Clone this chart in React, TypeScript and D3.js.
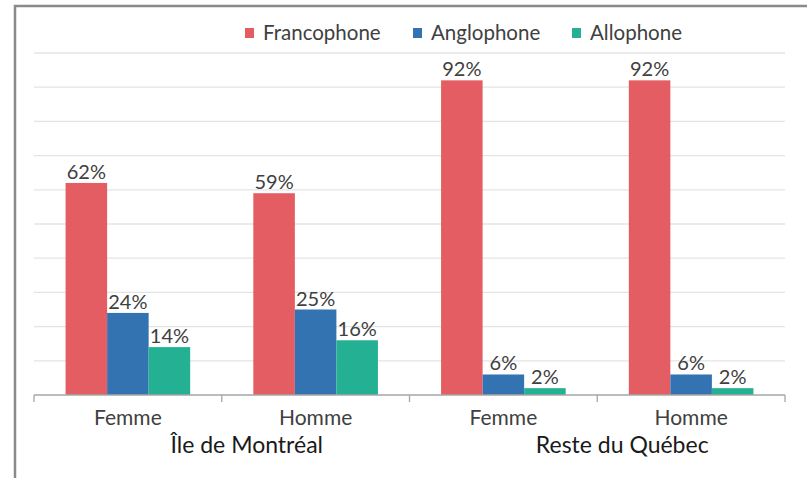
import React from 'react';
import * as d3 from 'd3';

const categories = ['Femme', 'Homme', 'Femme', 'Homme'];
const groups = ['Île de Montréal', 'Reste du Québec'];
const series = ['Francophone', 'Anglophone', 'Allophone'];
const francophone = [62, 59, 92, 92];
const anglophone = [24, 25, 6, 6];
const allophone = [14, 16, 2, 2];
const yTicks = [0, 10, 20, 30, 40, 50, 60, 70, 80, 90, 100];

const colors = ['#E35D62', '#3473B1', '#23B093'];
const values = [francophone, anglophone, allophone];
const font = 'Lato, "Open Sans", sans-serif';
const textColor = '#404040';

export default function App() {
  const width = 807;
  const height = 478;
  const left = 34;
  const right = 785;
  const top = 53;
  const bottom = 395;

  const x = d3.scaleBand<number>()
    .domain(d3.range(categories.length))
    .range([left, right])
    .padding(0);
  const xInner = d3.scaleBand<string>()
    .domain(series)
    .range([0, x.bandwidth()])
    .paddingInner(0)
    .paddingOuter(0.76);
  const y = d3.scaleLinear().domain([0, 100]).range([bottom, top]);

  const groupSize = categories.length / groups.length;

  return (
    <svg width={width} height={height} style={{ position: 'absolute', left: 0, top: 0 }}>
      <rect x={0} y={0} width={width} height={height} fill='#ffffff' />

      {/* frame */}
      <path d={`M15,${height} L15,6 L${width},6`} fill='none' stroke='#8a8a8a' strokeWidth={2.5} />

      {/* gridlines */}
      {yTicks.slice(1).map(t => (
        <line key={t} x1={left} x2={right} y1={y(t)} y2={y(t)} stroke='#e4e4e4' strokeWidth={1.3} />
      ))}

      {/* bars */}
      {series.map((s, si) => (
        <g key={s}>
          {values[si].map((v, i) => (
            <rect
              key={i}
              x={x(i)! + xInner(s)!}
              y={y(v)}
              width={xInner.bandwidth()}
              height={y(0) - y(v)}
              fill={colors[si]}
            />
          ))}
          {values[si].map((v, i) => (
            <text
              key={'l' + i}
              x={x(i)! + xInner(s)! + xInner.bandwidth() / 2}
              y={y(v) - 4}
              textAnchor='middle'
              fontFamily={font}
              fontSize={20}
              fill={textColor}
            >
              {v}%
            </text>
          ))}
        </g>
      ))}

      {/* axis */}
      <line x1={left} x2={right} y1={bottom} y2={bottom} stroke='#a6a6a6' strokeWidth={1.3} />
      {d3.range(categories.length + 1).map(i => {
        const xx = i < categories.length ? x(i)! : right;
        return <line key={i} x1={xx} x2={xx} y1={bottom} y2={bottom + 7} stroke='#a6a6a6' strokeWidth={1.3} />;
      })}
      {categories.map((c, i) => (
        <text
          key={i}
          x={x(i)! + x.bandwidth() / 2}
          y={425}
          textAnchor='middle'
          fontFamily={font}
          fontSize={21}
          fill={textColor}
        >
          {c}
        </text>
      ))}
      {groups.map((g, gi) => (
        <text
          key={g}
          x={x(gi * groupSize)! + x.bandwidth() * groupSize / 2 + 25}
          y={453}
          textAnchor='middle'
          fontFamily={font}
          fontSize={23}
          fill='#1a1a1a'
        >
          {g}
        </text>
      ))}

      {/* legend */}
      {series.map((s, si) => {
        const lx = [245, 413, 572][si];
        return (
          <g key={s}>
            <rect x={lx} y={28} width={9} height={10} fill={colors[si]} />
            <text x={lx + 18} y={40} fontFamily={font} fontSize={20.5} fill={textColor}>{s}</text>
          </g>
        );
      })}
    </svg>
  );
}
